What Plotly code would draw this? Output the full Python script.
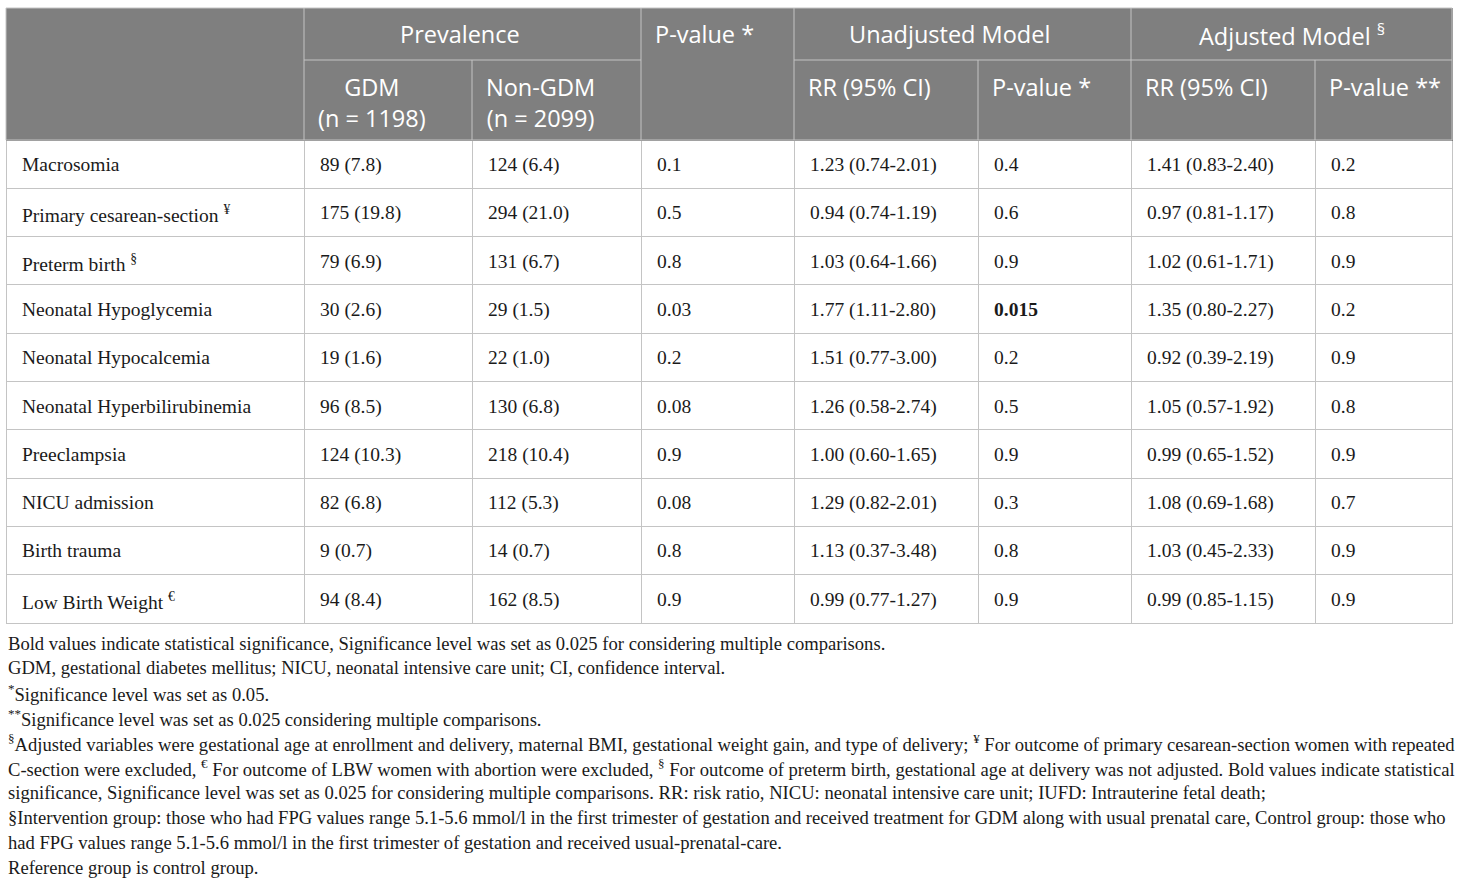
import plotly.graph_objects as go

# ---------------------------------------------------------
# Data
# ---------------------------------------------------------
outcomes = [
    "Macrosomia",
    "Primary cesarean-section <sup>¥</sup>",
    "Preterm birth <sup>§</sup>",
    "Neonatal Hypoglycemia",
    "Neonatal Hypocalcemia",
    "Neonatal Hyperbilirubinemia",
    "Preeclampsia",
    "NICU admission",
    "Birth trauma",
    "Low Birth Weight <sup>€</sup>",
]
gdm = ["89 (7.8)", "175 (19.8)", "79 (6.9)", "30 (2.6)", "19 (1.6)",
       "96 (8.5)", "124 (10.3)", "82 (6.8)", "9 (0.7)", "94 (8.4)"]
non_gdm = ["124 (6.4)", "294 (21.0)", "131 (6.7)", "29 (1.5)", "22 (1.0)",
           "130 (6.8)", "218 (10.4)", "112 (5.3)", "14 (0.7)", "162 (8.5)"]
p_prev = ["0.1", "0.5", "0.8", "0.03", "0.2", "0.08", "0.9", "0.08", "0.8", "0.9"]
rr_unadj = ["1.23 (0.74-2.01)", "0.94 (0.74-1.19)", "1.03 (0.64-1.66)",
            "1.77 (1.11-2.80)", "1.51 (0.77-3.00)", "1.26 (0.58-2.74)",
            "1.00 (0.60-1.65)", "1.29 (0.82-2.01)", "1.13 (0.37-3.48)",
            "0.99 (0.77-1.27)"]
p_unadj = ["0.4", "0.6", "0.9", "<b>0.015</b>", "0.2", "0.5", "0.9", "0.3", "0.8", "0.9"]
rr_adj = ["1.41 (0.83-2.40)", "0.97 (0.81-1.17)", "1.02 (0.61-1.71)",
          "1.35 (0.80-2.27)", "0.92 (0.39-2.19)", "1.05 (0.57-1.92)",
          "0.99 (0.65-1.52)", "1.08 (0.69-1.68)", "1.03 (0.45-2.33)",
          "0.99 (0.85-1.15)"]
p_adj = ["0.2", "0.8", "0.9", "0.2", "0.9", "0.8", "0.9", "0.7", "0.9", "0.9"]

# group headers: (text, first column, last column)
group_headers = [
    ("Prevalence", 1, 2),
    ("Unadjusted Model", 4, 5),
    ("Adjusted Model <sup>§</sup>", 6, 7),
]
sub_headers = ["", "GDM<br>(n = 1198)", "Non-GDM<br>(n = 2099)", "",
               "RR (95% CI)", "P-value *", "RR (95% CI)", "P-value **"]
spanning_header = (3, "P-value *")

footnotes = [
    "Bold values indicate statistical significance, Significance level was set as 0.025 for considering multiple comparisons.",
    "GDM, gestational diabetes mellitus; NICU, neonatal intensive care unit; CI, confidence interval.",
    "<sup>*</sup>Significance level was set as 0.05.",
    "<sup>**</sup>Significance level was set as 0.025 considering multiple comparisons.",
    "<sup>§</sup>Adjusted variables were gestational age at enrollment and delivery, maternal BMI, gestational weight gain, and type of delivery; <sup>¥</sup> For outcome of primary cesarean-section women with repeated",
    "C-section were excluded, <sup>€</sup> For outcome of LBW women with abortion were excluded, <sup>§</sup> For outcome of preterm birth, gestational age at delivery was not adjusted. Bold values indicate statistical",
    "significance, Significance level was set as 0.025 for considering multiple comparisons. RR: risk ratio, NICU: neonatal intensive care unit; IUFD: Intrauterine fetal death;",
    "§Intervention group: those who had FPG values range 5.1-5.6 mmol/l in the first trimester of gestation and received treatment for GDM along with usual prenatal care, Control group: those who",
    "had FPG values range 5.1-5.6 mmol/l in the first trimester of gestation and received usual-prenatal-care.",
    "Reference group is control group.",
]

# ---------------------------------------------------------
# Layout constants (pixels)
# ---------------------------------------------------------
W, H = 1460, 884
LEFT, RIGHT, TOP = 6, 8, 8
COL_WIDTHS = [298, 168, 169, 153, 184, 153, 184, 137]
HEADER_H = 132
HEADER_ROW1 = 52
ROW_H = 48.3
TEXT_SHIFT = 6      # push body text down so it sits mid-row
TEXT_INDENT = 8     # extra left padding of body text
GROUP_NUDGE = [-13, -13, 0]
BOTTOM = H - (TOP + HEADER_H + ROW_H * len(outcomes) + 2)
PLOT_W = W - LEFT - RIGHT
PLOT_H = H - TOP - BOTTOM

HEAD_FILL = "#7f7f7f"
GRID = "#c4c4c4"
SERIF = "Liberation Serif"
SANS = "Open Sans"

edges = [LEFT]
for w in COL_WIDTHS:
    edges.append(edges[-1] + w)


def xp(px):
    return (px - LEFT) / PLOT_W


def yp(py):
    return (TOP + PLOT_H - py) / PLOT_H


columns = [outcomes, gdm, non_gdm, p_prev, rr_unadj, p_unadj, rr_adj, p_adj]
# same markup path for every cell so plain and bold values line up
cell_text = [["<span>" + v + "</span>" for v in col] for col in columns]

fig = go.Figure()

# grid + fills
fig.add_trace(go.Table(
    columnwidth=COL_WIDTHS,
    domain=dict(x=[0, 1], y=[0, 1]),
    header=dict(values=[""] * len(columns), fill_color=HEAD_FILL,
                line=dict(color=HEAD_FILL, width=1), height=HEADER_H),
    cells=dict(values=[[""] * len(outcomes)] * len(columns), fill_color="white",
               line=dict(color=GRID, width=1), height=ROW_H),
))

# body text layer, offset right and down
text_widths = COL_WIDTHS[:-1] + [COL_WIDTHS[-1] - TEXT_INDENT]
fig.add_trace(go.Table(
    columnwidth=text_widths,
    domain=dict(x=[TEXT_INDENT / PLOT_W, 1], y=[0, 1 - TEXT_SHIFT / PLOT_H]),
    header=dict(values=[""] * len(columns), fill_color="rgba(0,0,0,0)",
                line=dict(color="rgba(0,0,0,0)", width=0), height=HEADER_H),
    cells=dict(values=cell_text, fill_color="rgba(0,0,0,0)",
               line=dict(color="rgba(0,0,0,0)", width=0), height=ROW_H,
               align="left", font=dict(family=SERIF, size=19.5, color="#1a1a1a")),
))

# header separators
shapes = []
head_bottom = TOP + HEADER_H
mid = TOP + HEADER_ROW1
shapes.append(dict(type="rect", xref="paper", yref="paper",
                   x0=xp(edges[0]), x1=xp(edges[-1]), y0=yp(TOP), y1=yp(head_bottom),
                   line=dict(color=GRID, width=1), fillcolor="rgba(0,0,0,0)"))
for text, c0, c1 in group_headers:
    shapes.append(dict(type="line", xref="paper", yref="paper",
                       x0=xp(edges[c0]), x1=xp(edges[c1 + 1]), y0=yp(mid), y1=yp(mid),
                       line=dict(color=GRID, width=1)))
    for c in range(c0 + 1, c1 + 1):
        shapes.append(dict(type="line", xref="paper", yref="paper",
                           x0=xp(edges[c]), x1=xp(edges[c]), y0=yp(mid), y1=yp(head_bottom),
                           line=dict(color=GRID, width=1)))
for c in [1, 3, 4, 6]:
    shapes.append(dict(type="line", xref="paper", yref="paper",
                       x0=xp(edges[c]), x1=xp(edges[c]), y0=yp(TOP), y1=yp(head_bottom),
                       line=dict(color=GRID, width=1)))

annotations = []
head_font = dict(family=SANS, size=23.5, color="white")
for (text, c0, c1), nudge in zip(group_headers, GROUP_NUDGE):
    annotations.append(dict(xref="paper", yref="paper", showarrow=False,
                            x=xp((edges[c0] + edges[c1 + 1]) / 2 + nudge), y=yp(TOP + 26),
                            xanchor="center", yanchor="middle", text=text, font=head_font))
sc, stext = spanning_header
annotations.append(dict(xref="paper", yref="paper", showarrow=False,
                        x=xp(edges[sc] + 12), y=yp(TOP + 26),
                        xanchor="left", yanchor="middle", text=stext, font=head_font))
for c, text in enumerate(sub_headers):
    if not text:
        continue
    annotations.append(dict(xref="paper", yref="paper", showarrow=False,
                            x=xp(edges[c] + 12), y=yp(TOP + HEADER_ROW1 + 9),
                            xanchor="left", yanchor="top", align="center",
                            text=text, font=head_font))

# footnotes
for i, line in enumerate(footnotes):
    annotations.append(dict(xref="paper", yref="paper", showarrow=False,
                            x=0, y=yp(643 + 24.9 * i), xanchor="left", yanchor="middle",
                            text=line, font=dict(family=SERIF, size=18.6, color="#1a1a1a")))

fig.update_layout(
    width=W, height=H,
    margin=dict(l=LEFT, r=RIGHT, t=TOP, b=BOTTOM),
    paper_bgcolor="white", plot_bgcolor="white",
    shapes=shapes, annotations=annotations,
)

# the page's default body margin would push the figure off by 8px
fig.write_html("out.html", config={"displayModeBar": False},
               post_script="document.body.style.margin = '0';")
